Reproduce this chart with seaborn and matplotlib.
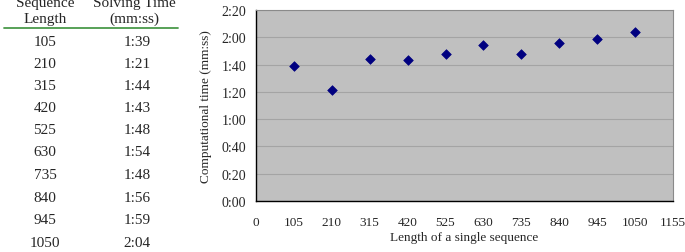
import matplotlib
matplotlib.use("Agg")
import matplotlib.pyplot as plt
import seaborn as sns
import pandas as pd
from matplotlib.ticker import FuncFormatter, MultipleLocator
from matplotlib.lines import Line2D

lengths = [105, 210, 315, 420, 525, 630, 735, 840, 945, 1050]
time_labels = ["1:39", "1:21", "1:44", "1:43", "1:48", "1:54", "1:48", "1:56", "1:59", "2:04"]
seconds = [99, 81, 104, 103, 108, 114, 108, 116, 119, 124]
x_ticks = list(range(0, 1156, 105))

sns.set_theme(style="white")
plt.rcParams['font.family'] = ['Liberation Serif', 'DejaVu Serif']

W, H = 685, 253
fig = plt.figure(figsize=(W / 100, H / 100), dpi=100)

ax = fig.add_axes([256 / W, 1 - 202 / H, (673 - 256) / W, (202 - 11) / H])
ax.set_facecolor("#c0c0c0")
df = pd.DataFrame({"length": lengths, "sec": seconds})
sns.scatterplot(data=df, x="length", y="sec", marker="D", s=24, color="#000080",
                edgecolor="#000080", linewidth=0.5, ax=ax, zorder=3)
ax.set_xlim(0, 1155)
ax.set_ylim(0, 140)
ax.set_xticks(x_ticks)
ax.yaxis.set_major_locator(MultipleLocator(20))
ax.yaxis.set_major_formatter(FuncFormatter(lambda v, p: f"{int(v)//60}:{int(v)%60:02d}"))
ax.grid(axis="y", color="#a4a4a4", linewidth=0.8)
ax.set_axisbelow(True)
for s in ["top", "right"]:
    ax.spines[s].set_color("#8a8a8a")
    ax.spines[s].set_linewidth(0.8)
for s in ["left", "bottom"]:
    ax.spines[s].set_color("black")
    ax.spines[s].set_linewidth(1.0)
ax.tick_params(axis="y", direction="out", length=4, width=0.8, color="black", labelsize=10, pad=3)
ax.tick_params(axis="x", direction="inout", length=6, width=0.8, color="black", labelsize=9.5, pad=8)
ax.set_xlabel("Length of a single sequence", fontsize=9.5, labelpad=2)
ax.set_ylabel("Computational time (mm:ss)", fontsize=9.5, labelpad=7)

# Table on the left
c1, c2 = 45 / W, 134 / W
def fy(py):
    return 1 - py / H
fs = 11
fig.text(c1, fy(4), "Sequence", ha="center", va="center", fontsize=fs)
fig.text(c2, fy(4), "Solving Time", ha="center", va="center", fontsize=fs)
fig.text(c1, fy(19), "Length", ha="center", va="center", fontsize=fs)
fig.text(c2, fy(19), "(mm:ss)", ha="center", va="center", fontsize=fs)
fig.add_artist(Line2D([4 / W, 178 / W], [fy(28.5), fy(28.5)], color="#4a9a4a", linewidth=1.3))
row_y = [42, 64, 86, 109, 131, 153, 176, 198, 221, 244]
for L, t, py in zip(lengths, time_labels, row_y):
    fig.text(c1, fy(py), str(L), ha="center", va="center", fontsize=fs)
    fig.text(c2 + 3 / W, fy(py), t, ha="center", va="center", fontsize=fs)

fig.savefig("out.png", dpi=100)
